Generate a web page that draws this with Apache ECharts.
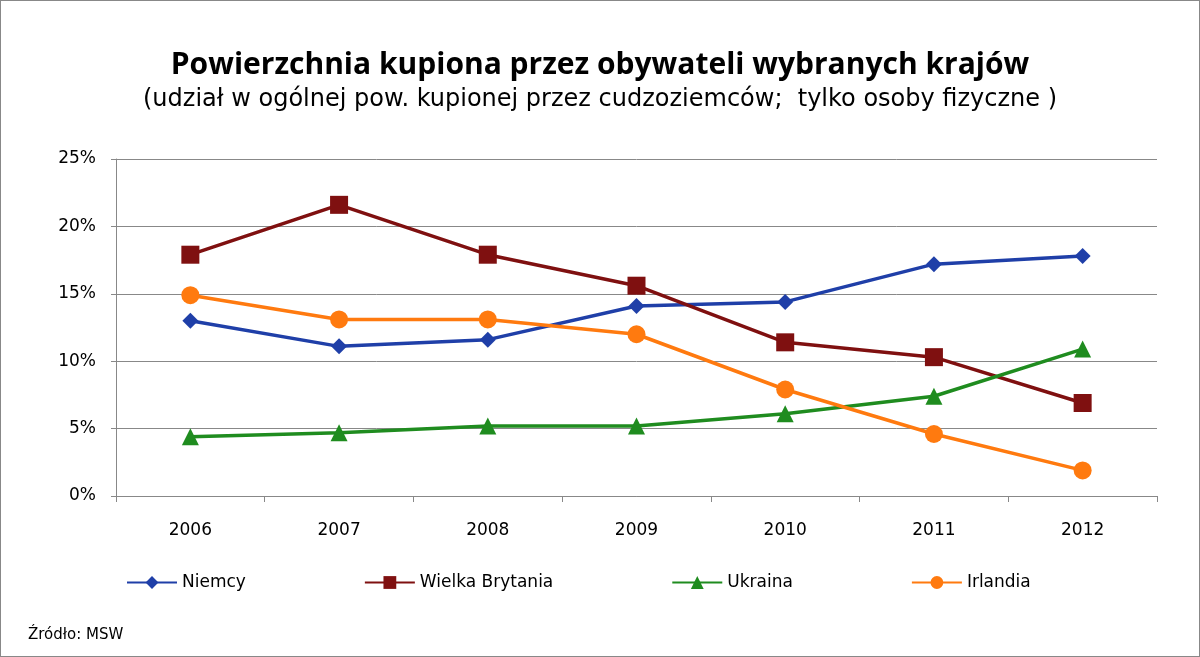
<!DOCTYPE html>
<html>
<head>
<meta charset="utf-8">
<script src="https://cdn.jsdelivr.net/npm/echarts@6/dist/echarts.min.js"></script>
<style>
  html, body { margin: 0; padding: 0; background: #fff; }
  #chart { width: 1200px; height: 657px; box-sizing: border-box; border: 1px solid #888; }
</style>
</head>
<body>
<div id="chart"></div>
<script>
// data
var years = ['2006', '2007', '2008', '2009', '2010', '2011', '2012'];
var niemcy = [13.0, 11.1, 11.6, 14.1, 14.4, 17.2, 17.8];
var wielkaBrytania = [17.9, 21.6, 17.9, 15.6, 11.4, 10.3, 6.9];
var ukraina = [4.4, 4.7, 5.2, 5.2, 6.1, 7.4, 10.9];
var irlandia = [14.9, 13.1, 13.1, 12.0, 7.9, 4.6, 1.9];

var font = 'DejaVu Sans';
function line(name, data, color, symbol, size) {
    return {
        name: name, type: 'line', data: data,
        symbol: symbol, symbolSize: size,
        itemStyle: { color: color },
        lineStyle: { color: color, width: 3.5 }
    };
}

var myChart = echarts.init(document.getElementById('chart'));
myChart.setOption({
    animation: false,
    textStyle: { fontFamily: font },
    title: [{
        text: 'Powierzchnia kupiona przez obywateli wybranych krajów',
        subtext: '(udział w ogólnej pow. kupionej przez cudzoziemców;  tylko osoby fizyczne )',
        left: 'center', top: 44,
        textStyle: { fontSize: 30, fontWeight: 'bold', color: '#000', fontFamily: 'Open Sans' },
        subtextStyle: { fontSize: 24, color: '#000', fontFamily: font },
        itemGap: 8
    }, {
        text: 'Źródło: MSW',
        left: 22, top: 622,
        textStyle: { fontSize: 15, fontWeight: 'normal', color: '#000' }
    }],
    legend: {
        top: 568, left: 120, itemGap: 118, itemWidth: 50, itemHeight: 16,
        textStyle: { fontSize: 17, color: '#000' },
        data: ['Niemcy', 'Wielka Brytania', 'Ukraina', 'Irlandia']
    },
    grid: { left: 115, right: 42, top: 158, bottom: 160 },
    xAxis: {
        type: 'category', data: years, boundaryGap: true,
        axisLine: { lineStyle: { color: '#888' } },
        axisTick: { show: true, length: 6, lineStyle: { color: '#888' } },
        axisLabel: { fontSize: 17, color: '#000', margin: 26 }
    },
    yAxis: {
        type: 'value', min: 0, max: 25, interval: 5,
        axisLine: { show: true, lineStyle: { color: '#888' } },
        axisTick: { show: true, lineStyle: { color: '#888' } },
        splitLine: { lineStyle: { color: '#888', width: 1 } },
        axisLabel: { fontSize: 17, color: '#000', formatter: '{value}%', margin: 20 }
    },
    series: [
        line('Niemcy', niemcy, '#1f3fa8', 'diamond', 16),
        line('Wielka Brytania', wielkaBrytania, '#7f1010', 'rect', 18),
        line('Ukraina', ukraina, '#1f8c1f', 'triangle', 17),
        line('Irlandia', irlandia, '#ff7a0f', 'circle', 18)
    ]
});
</script>
</body>
</html>
